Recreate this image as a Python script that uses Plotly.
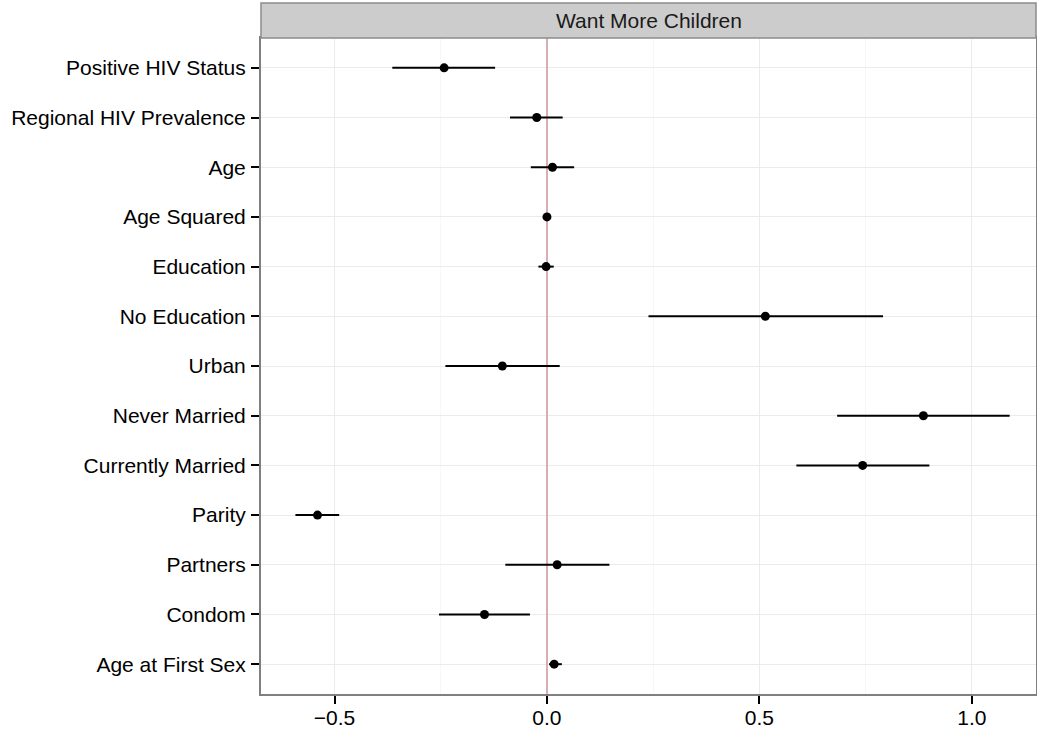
import plotly.graph_objects as go

labels = ["Positive HIV Status", "Regional HIV Prevalence", "Age", "Age Squared",
          "Education", "No Education", "Urban", "Never Married", "Currently Married",
          "Parity", "Partners", "Condom", "Age at First Sex"]
estimate = [-0.242, -0.024, 0.013, 0.0, -0.002, 0.514, -0.105, 0.886, 0.743,
            -0.540, 0.024, -0.147, 0.017]
lower = [-0.364, -0.087, -0.038, -0.003, -0.020, 0.239, -0.239, 0.683, 0.587,
         -0.592, -0.098, -0.254, 0.005]
upper = [-0.122, 0.037, 0.064, 0.003, 0.016, 0.791, 0.030, 1.089, 0.900,
         -0.489, 0.147, -0.040, 0.035]
panel_title = "Want More Children"
xticks = [-0.5, 0.0, 0.5, 1.0]
xtick_text = ["\u22120.5", "0.0", "0.5", "1.0"]

pos = list(range(len(labels)))
err_plus = [u - e for u, e in zip(upper, estimate)]
err_minus = [e - l for e, l in zip(estimate, lower)]

FONT = "Liberation Sans, Arial, Helvetica, sans-serif"
W, H = 1037, 732
ml, mr, mt, mb = 261, 1, 38, 38
ph = H - mt - mb
FS = 21

fig = go.Figure()
fig.add_trace(go.Scatter(
    x=estimate, y=pos, mode="markers",
    marker=dict(color="black", size=9),
    error_x=dict(type="data", symmetric=False, array=err_plus, arrayminus=err_minus,
                 color="black", thickness=2, width=0),
    showlegend=False, hoverinfo="x+y",
))

fig.update_layout(
    width=W, height=H,
    margin=dict(l=ml, r=mr, t=mt, b=mb, pad=0, autoexpand=False),
    paper_bgcolor="white", plot_bgcolor="white",
    font=dict(family=FONT, size=FS, color="black"),
    xaxis=dict(
        automargin=False,
        range=[-0.673, 1.151], tickvals=xticks, ticktext=xtick_text,
        showgrid=True, gridcolor="#ebebeb", gridwidth=1,
        minor=dict(showgrid=True, gridcolor="#f7f7f7", dtick=0.25, tick0=0),
        zeroline=True, zerolinecolor="#d8aeb3", zerolinewidth=2,
        showline=True, linecolor="#808080", linewidth=2, mirror=True,
        ticks="outside", ticklen=8, tickwidth=2, tickcolor="black",
        ticklabelstandoff=-4,
        tickfont=dict(size=FS, color="black"),
    ),
    yaxis=dict(
        automargin=False,
        range=[12.6, -0.6], tickvals=pos, ticktext=labels,
        showgrid=True, gridcolor="#ebebeb", gridwidth=1, zeroline=False,
        showline=True, linecolor="#808080", linewidth=2, mirror=True,
        ticks="outside", ticklen=8, tickwidth=2, tickcolor="black",
        ticklabelstandoff=1,
        tickfont=dict(size=FS, color="black"),
    ),
)

strip_h = 35 / ph
fig.add_shape(type="rect", xref="paper", yref="paper", x0=0, x1=1, y0=1, y1=1 + strip_h,
              fillcolor="#cccccc", line=dict(color="#8c8c8c", width=1.5), layer="above")
fig.add_annotation(xref="paper", yref="paper", x=0.5, y=1 + strip_h / 2, text=panel_title,
                   showarrow=False, font=dict(size=FS, color="#1a1a1a"),
                   xanchor="center", yanchor="middle")

fig.write_html("out.html", config={"displayModeBar": False},
               post_script="document.body.style.margin='0';")
